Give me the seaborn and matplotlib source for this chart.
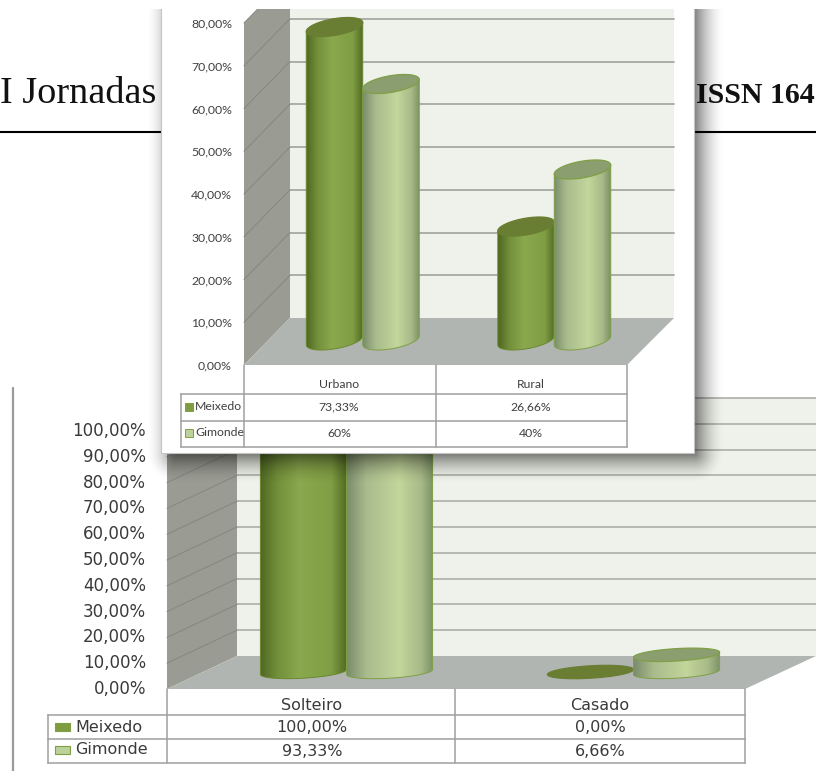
import numpy as np
import pandas as pd
import matplotlib
matplotlib.use('Agg')
import matplotlib.pyplot as plt
import seaborn as sns
from matplotlib.colors import LinearSegmentedColormap
from matplotlib.patches import Polygon, Rectangle

# Dados
series = ['Meixedo', 'Gimonde']

area_cats = ['Urbano', 'Rural']
area_meixedo = [73.33, 26.66]
area_gimonde = [60, 40]
area_meixedo_txt = ['73,33%', '26,66%']
area_gimonde_txt = ['60%', '40%']
area_ticks = [0, 10, 20, 30, 40, 50, 60, 70, 80]

civil_cats = ['Solteiro', 'Casado']
civil_meixedo = [100.0, 0.0]
civil_gimonde = [93.33, 6.66]
civil_meixedo_txt = ['100,00%', '0,00%']
civil_gimonde_txt = ['93,33%', '6,66%']
civil_ticks = [0, 10, 20, 30, 40, 50, 60, 70, 80, 90, 100]

W, H = 816, 771
WALL = '#9a9c93'
BACK = '#eff2ea'
FLOOR = '#b1b5b1'
GRID = '#a6a8a3'
TABLE = '#9f9f9f'

corpo_cmaps = [
    LinearSegmentedColormap.from_list('m', [(0, '#4f6722'), (0.2, '#728f3a'), (0.45, '#8aa84d'),
                                             (0.82, '#809e44'), (1, '#526a24')]),
    LinearSegmentedColormap.from_list('g', [(0, '#7a8d6c'), (0.22, '#a9bb8c'), (0.6, '#c3d69b'),
                                            (0.85, '#a8ba88'), (1, '#7a9064')]),
]
topo_cores = ['#6a7e33', '#8b9e6f']
borda_cores = ['#6a8a30', '#7f9f45']
leg_cores = ['#7f9c40', '#bdd19a']

sns.set_theme(style='white')
plt.rcParams['font.family'] = ['DejaVu Sans']

fig = plt.figure(figsize=(W / 100, H / 100), dpi=100, facecolor='white')


def camada_px(z):
    ax = fig.add_axes([0, 0, 1, 1], zorder=z)
    ax.set_xlim(0, W)
    ax.set_ylim(H, 0)
    ax.axis('off')
    return ax


def cenario(ax, x0, x1, y0, dx, dy, u, ticks, lw, xr, ytop):
    # paredes, chão e grelha do gráfico 3D
    vmax = ticks[-1]
    ax.add_patch(Rectangle((x0 + dx, ytop), xr - x0 - dx, y0 + dy - ytop, fc=BACK, ec='none', zorder=1))
    ax.add_patch(Polygon([(x0, y0), (x0 + dx, y0 + dy), (x0 + dx, y0 + dy - vmax * u), (x0, y0 - vmax * u)],
                         fc=WALL, ec='none', zorder=1))
    ax.add_patch(Polygon([(x0, y0), (x0 + dx, y0 + dy), (xr, y0 + dy), (x1, y0)], fc=FLOOR, ec='none', zorder=1))
    for v in ticks[1:]:
        yb = y0 + dy - v * u
        if yb > ytop - 1:
            ax.plot([x0 + dx, xr], [yb, yb], color=GRID, lw=lw, zorder=2)
        ax.plot([x0, x0 + dx], [y0 - v * u, yb], color='#85877f', lw=0.7, zorder=2)


def tabela(ax, xleg, x0, xm, x1, ys, lw):
    for y in ys[1:]:
        ax.plot([xleg, x1], [y, y], color=TABLE, lw=lw, zorder=3, solid_capstyle='projecting')
    for x in [x0, xm, x1]:
        ax.plot([x, x], [ys[0], ys[-1]], color=TABLE, lw=lw, zorder=3)
    ax.plot([xleg, xleg], [ys[1], ys[-1]], color=TABLE, lw=lw, zorder=3)


def cilindros(box, cats, vals_a, vals_b, width, u, b_px, k_px, ylim, order_z):
    # box = (x0, x1, y_zero) em pixels; barras do seaborn
    df = pd.DataFrame({
        'categoria': cats * 2,
        'serie': [series[0]] * 2 + [series[1]] * 2,
        'valor': list(vals_a) + list(vals_b),
    })
    bottom = box[2] - ylim[0] * u
    top = box[2] - ylim[1] * u
    ax = fig.add_axes([box[0] / W, 1 - bottom / H, (box[1] - box[0]) / W, (bottom - top) / H], zorder=order_z)
    sns.barplot(data=df, x='categoria', y='valor', hue='serie', palette=leg_cores, width=width, gap=0,
                legend=False, ax=ax, saturation=1, err_kws={'linewidth': 0})
    b = b_px / u
    k = k_px / u
    t_baixo = np.linspace(np.pi, 2 * np.pi, 60)
    t_topo = np.linspace(0, 2 * np.pi, 120)
    z = 5
    for i, cont in enumerate(ax.containers):
        for bar in cont:
            xa, w, h = bar.get_x(), bar.get_width(), bar.get_height()
            bar.set_visible(False)
            xc = xa + w / 2
            corpo = np.column_stack([xc + w / 2 * np.cos(t_baixo), b * np.sin(t_baixo) + k * np.cos(t_baixo)])
            corpo = np.vstack([corpo, [xa + w, h + k], [xa, h - k]])
            if h > 0:
                im = ax.imshow(np.linspace(0, 1, 256)[None, :], cmap=corpo_cmaps[i], aspect='auto',
                               extent=(xa, xa + w, ylim[0], h + k), interpolation='bilinear', zorder=z)
                clip = Polygon(corpo, transform=ax.transData, fc='none', ec='none')
                ax.add_patch(clip)
                im.set_clip_path(clip)
                ax.add_patch(Polygon(corpo, fc='none', ec=borda_cores[i], lw=0.7, zorder=z + 1))
            topo = np.column_stack([xc + w / 2 * np.cos(t_topo), h + b * np.sin(t_topo) + k * np.cos(t_topo)])
            ax.add_patch(Polygon(topo, fc=topo_cores[i], ec=borda_cores[i] if i else topo_cores[i], lw=0.9, zorder=z + 2))
            z += 3
    ax.set_xlim(-0.5, 1.5)
    ax.set_ylim(*ylim)
    ax.axis('off')
    ax.patch.set_alpha(0)
    return ax


# Página: cabeçalho e linha lateral
pag = camada_px(1)
pag.plot([0, W], [132, 132], color='black', lw=1.5)
pag.plot([13, 13], [388, H], color='#9a9a9a', lw=1.6)
pag.text(0, 103, 'I Jornadas', family='Liberation Serif', fontsize=27.5, color='#111111', va='baseline', ha='left')
pag.text(696, 103, 'ISSN 164', family='Liberation Serif', fontsize=21.5, fontweight='bold', color='#111111',
         va='baseline', ha='left')

# Gráfico de baixo: estado civil
c2 = camada_px(2)
cenario(c2, 167, 745, 689, 70, -33, 2.58, civil_ticks, 1.1, W, 398)
tabela(c2, 48, 167, 455, 745, [689, 715, 739, 763], 1.1)
for v in civil_ticks:
    c2.text(146, 689 - v * 2.58, f'{v},00%', ha='right', va='center', fontsize=12, color='#3a3a3a')
for j, xc in enumerate([312, 600]):
    c2.text(xc, 705, civil_cats[j], ha='center', va='center', fontsize=11.5, color='#3a3a3a')
    c2.text(xc, 727, civil_meixedo_txt[j], ha='center', va='center', fontsize=11.5, color='#3a3a3a')
    c2.text(xc, 751, civil_gimonde_txt[j], ha='center', va='center', fontsize=11.5, color='#3a3a3a')
for nome, cor, y in zip(series, leg_cores, [727, 750]):
    c2.add_patch(Rectangle((55, y - 4), 15, 8, fc=cor, ec=borda_cores[1], lw=0.8, zorder=4))
    c2.text(75, y, nome, ha='left', va='center', fontsize=11.5, color='#3a3a3a')

cilindros((203, 777, 672), civil_cats, civil_meixedo, civil_gimonde, 0.6, 2.58, 6.2, 2.5, (-5, 105), 3)

# Gráfico de cima: painel branco com sombra
c1 = camada_px(4)
yy, xx = np.mgrid[0:H, 0:W]
ddx = np.maximum(np.maximum(176 - xx, xx - 694), 0)
ddy = np.maximum(yy - 453, 0)
dist = np.hypot(ddx, ddy)
sombra = np.zeros((H, W, 4))
sombra[..., 3] = 0.5 * np.clip(1 - dist / 30, 0, 1) ** 1.7
c1.imshow(sombra, extent=(0, W, H, 0), aspect='auto', zorder=0, interpolation='bilinear')
c1.set_xlim(0, W)
c1.set_ylim(H, 0)
c1.add_patch(Rectangle((160.5, 0), 533, 452.5, fc='white', ec='#c4c4c4', lw=0.8, zorder=0.5))

cenario(c1, 244, 627, 365, 46, -47, 4.275, area_ticks, 1.3, 674, 9)
tabela(c1, 181, 244, 435.5, 627, [365, 393.5, 420.5, 447], 1.1)
fam = ['Lato', 'DejaVu Sans']
for v in area_ticks:
    c1.text(232, 365 + 1 - v * 4.275, f'{v},00%', ha='right', va='center', family=fam, fontsize=8.8, color='#404040')
for j, xc in enumerate([339, 531]):
    c1.text(xc, 385, area_cats[j], ha='center', va='center', family=fam, fontsize=8.8, color='#404040')
    c1.text(xc, 407, area_meixedo_txt[j], ha='center', va='center', family=fam, fontsize=8.8, color='#404040')
    c1.text(xc, 433.5, area_gimonde_txt[j], ha='center', va='center', family=fam, fontsize=8.8, color='#404040')
for nome, cor, y in zip(series, leg_cores, [406.5, 433]):
    c1.add_patch(Rectangle((185, y - 4), 8, 8, fc=cor, ec=borda_cores[1], lw=0.7, zorder=4))
    c1.text(195, y, nome, ha='left', va='center', family=fam, fontsize=8.8, color='#404040')

cilindros((267, 650, 340.5), area_cats, area_meixedo, area_gimonde, 0.59, 4.275, 8.4, 4.5, (-5, 80), 5)

# Corte branco no topo da página
corte = camada_px(10)
corte.add_patch(Rectangle((0, 0), W, 9, fc='white', ec='none'))

fig.savefig('out.png', dpi=100)
